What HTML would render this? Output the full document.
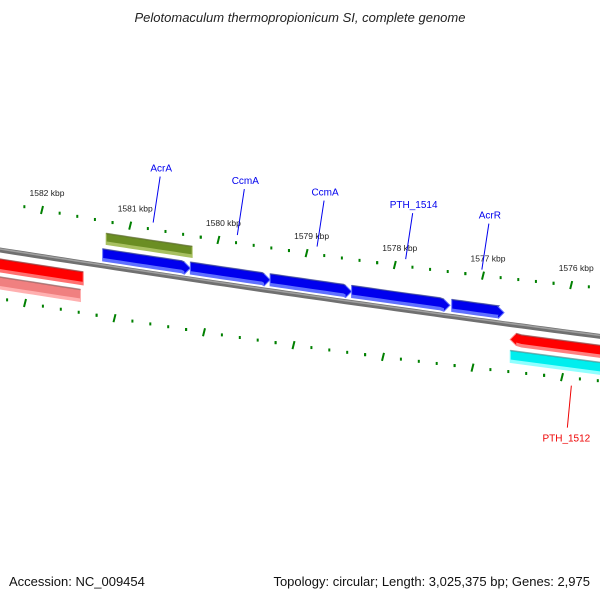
<!DOCTYPE html>
<html><head><meta charset="utf-8"><style>
body{margin:0;background:#fff}
svg{display:block;font-family:"Liberation Sans","DejaVu Sans",sans-serif}
</style></head><body>
<svg id="c" width="600" height="600" viewBox="0 0 600 600">
<text x="300" y="22" text-anchor="middle" font-size="13" font-style="italic" fill="#222">Pelotomaculum thermopropionicum SI, complete genome</text>
<text x="9" y="586" font-size="13" fill="#111">Accession: NC_009454</text>
<text x="590" y="586" font-size="13" fill="#111" text-anchor="end">Topology: circular; Length: 3,025,375 bp; Genes: 2,975</text>
</svg>
<script>
const tickKbp=[1582,1581,1580,1579,1578,1577,1576];
const geneStart=[1581.18,1580.19,1579.29,1578.37,1577.24,1581.14,1582.5,1582.5,1576.58,1576.58];
const geneEnd=[1580.19,1579.29,1578.37,1577.26,1576.65,1580.17,1581.40,1581.43,1575.3,1575.3];
const geneTrack=["fwd","fwd","fwd","fwd","fwd","olive","red","pink","redr","cyan"];
const labelText=["AcrA","CcmA","CcmA","PTH_1514","AcrR","PTH_1512"];
const labelKbp=[1580.61,1579.66,1578.76,1577.76,1576.90,1575.89];
const NS="http://www.w3.org/2000/svg";
const svg=document.getElementById('c');
function el(t,a){const e=document.createElementNS(NS,t);for(const k in a)e.setAttribute(k,a[k]);svg.appendChild(e);return e;}
const kx=k=>30+(1582-k)*88.6;
const base=x=>250+0.157*x-0.0000217*x*x;
const outerY=x=>202.1+0.1906*x-0.0000794*x*x;
const innerY=x=>298.6+0.179*x-0.0000698*x*x;
const outerX=k=>42+(1582-k)*88.2;
const innerX=k=>25+(1582-k)*89.5;
let d="";for(let x=-5;x<=605;x+=10)d+=(x<0?"M":"L")+x+","+base(x).toFixed(1)+" ";
const bb=el('path',{d:d,stroke:'#707070','stroke-width':5,fill:'none'});


const bb2=el('path',{d:d,stroke:'#a0a0a0','stroke-width':1.5,fill:'none',transform:'translate(0,-1)'});


function ticks(fx,fy,row){
 for(let i=0;i<tickKbp.length;i++){
  for(let m=0;m<5;m++){
   const k=tickKbp[i]-m*0.2;const x=fx(k);if(x<0||x>600)continue;const y=fy(x);
   let t;
   if(m===0){t=el('line',{x1:x+1,y1:y-4,x2:x-1,y2:y+4,stroke:'#008000','stroke-width':2});}
   else{t=el('rect',{x:x-1,y:y-1.5,width:2,height:3,fill:'#008000'});}
   
   
  }
  const k0=tickKbp[i]+0.2,x0=fx(k0);if(x0>=0&&x0<=600){const y0=fy(x0);const t2=el('rect',{x:x0-1,y:y0-1.5,width:2,height:3,fill:'#008000'});
  
  }
  if(row==='outer'){const x=fx(tickKbp[i]);const lb=el('text',{x:x+5,y:outerY(x)-14,'font-size':8.5,fill:'#222','text-anchor':'middle'});lb.textContent=tickKbp[i]+' kbp';
  
  }
 }
}
ticks(outerX,outerY,'outer');ticks(innerX,innerY,'inner');
const trackOff={fwd:[-17,-5],olive:[-33,-22],red:[9,22],pink:[27,39],redr:[9,21],cyan:[26,38]};
const trackCol={fwd:['#0000ee','#6070ff'],olive:['#6b8e23','#a8c060'],red:['#ff0000','#ff7070'],pink:['#f08080','#ffb0b0'],redr:['#ff0000','#ff8080'],cyan:['#00eeee','#90ffff']};
for(let i=0;i<geneStart.length;i++){
 const tr=geneTrack[i],o=trackOff[tr],c=trackCol[tr];
 const x1=kx(geneStart[i]),x2=kx(geneEnd[i]);
 const arrowR=tr==='fwd',arrowL=tr==='redr';
 const top=[],bot=[];
 for(let s=0;s<=10;s++){const x=x1+(x2-x1)*s/10;top.push([x,base(x)+o[0]]);bot.push([x,base(x)+o[1]]);}
 if(arrowR){top[10][0]-=6;bot[10][0]-=6;}
 if(arrowL){top[0][0]+=6;bot[0][0]+=6;}
 let pts=top.map(p=>p.join(',')).join(' ');
 if(arrowR){const ym=base(x2)+(o[0]+o[1])/2;pts+=' '+x2+','+ym;}
 pts+=' '+bot.slice().reverse().map(p=>p.join(',')).join(' ');
 if(arrowL){const ym=base(x1)+(o[0]+o[1])/2;pts+=' '+x1+','+ym;}
 const g=el('polygon',{points:pts,fill:c[0],stroke:c[1],'stroke-width':1});
 
 
 const sp=bot.map(p=>p[0]+','+(p[1]-3)).join(' ')+' '+bot.slice().reverse().map(p=>p.join(',')).join(' ');
 const s=el('polygon',{points:sp,fill:c[1]});
 
 
 const dk=el('polyline',{points:top.map(p=>p.join(',')).join(' '),stroke:'rgba(0,0,0,0.3)','stroke-width':1.5,fill:'none'});
 
 
}
for(let i=0;i<labelText.length;i++){
 const x=kx(labelKbp[i]);const red=i===5;
 const col=red?'#ee0000':'#0000ee';
 let ln,tx;
 if(!red){const y2=base(x)-51;ln=el('line',{x1:x+7,y1:y2-46,x2:x,y2:y2,stroke:col,'stroke-width':1});
  tx=el('text',{x:x+8,y:y2-51,'font-size':10,fill:col,'text-anchor':'middle'});}
 else{const y1=base(x)+53;ln=el('line',{x1:x,y1:y1,x2:x-4,y2:y1+42,stroke:col,'stroke-width':1});
  tx=el('text',{x:x-5,y:y1+56,'font-size':10,fill:col,'text-anchor':'middle'});}
 tx.textContent=labelText[i];
 
 
 
 
}
</script>
</body></html>
